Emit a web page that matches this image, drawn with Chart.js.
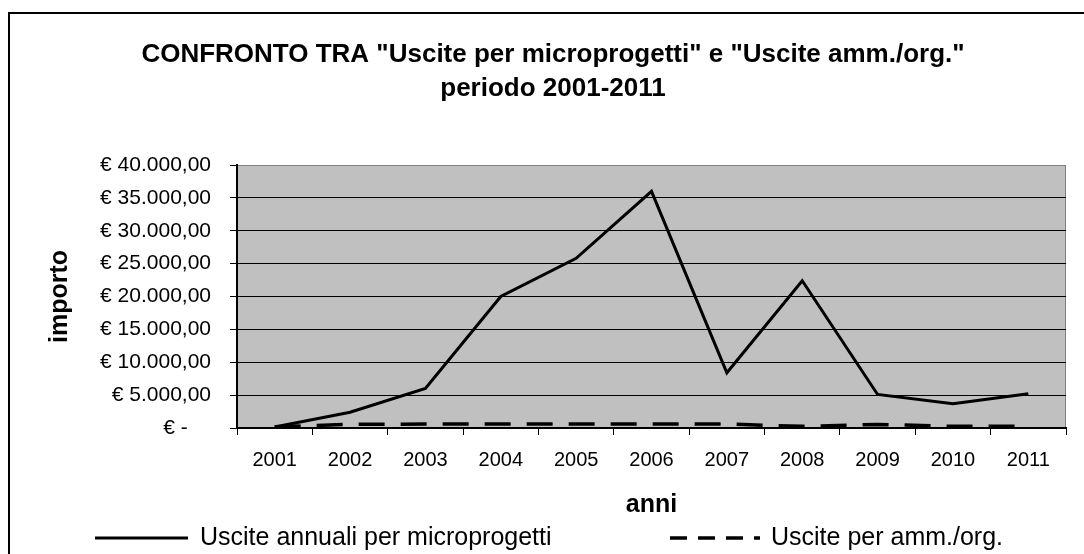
<!DOCTYPE html>
<html>
<head>
<meta charset="utf-8">
<title>Uscite per microprogetti e amm./org. 2001-2011</title>
<script src="https://cdn.jsdelivr.net/npm/chart.js@4.4.1/dist/chart.umd.min.js"></script>
<style>
  html, body { margin: 0; padding: 0; background: #fff; overflow: hidden; }
  #wrap { width: 1084px; height: 554px; }
</style>
</head>
<body>
<div id="wrap"><canvas id="chart" width="1084" height="554"></canvas></div>
<script>
// --- data ---
const years = ['2001', '2002', '2003', '2004', '2005', '2006', '2007', '2008', '2009', '2010', '2011'];
const usciteMicroprogetti = [150, 2400, 6000, 20000, 25800, 36000, 8400, 22400, 5100, 3700, 5200];
const usciteAmmOrg = [200, 550, 600, 600, 600, 600, 600, 250, 550, 250, 250];
const titleLines = ['CONFRONTO TRA "Uscite per microprogetti" e "Uscite amm./org."', 'periodo 2001-2011'];
const seriesNames = ['Uscite annuali per microprogetti', 'Uscite per amm./org.'];
const yMax = 40000;
const yStep = 5000;

const FONT = '"Liberation Sans", Arial, sans-serif';

// 40000 -> "€ 40.000,00", 0 -> "€ -"
function euro(v) {
  if (v === 0) return '€ -    ';
  const parts = v.toFixed(2).split('.');
  const intPart = parts[0].replace(/\B(?=(\d{3})+(?!\d))/g, '.');
  return '€ ' + intPart + ',' + parts[1];
}

// grey plot background, grey top/right frame, outer chart border
const backdrop = {
  id: 'backdrop',
  beforeDraw(chart) {
    const { ctx, chartArea: a } = chart;
    ctx.save();
    ctx.fillStyle = '#fff';
    ctx.fillRect(0, 0, chart.width, chart.height);
    ctx.fillStyle = '#000';
    ctx.fillRect(8, 12, chart.width, 2);
    ctx.fillRect(8, 12, 2, chart.height);
    ctx.fillStyle = '#c0c0c0';
    ctx.fillRect(a.left, a.top, a.right - a.left, a.bottom - a.top);
    ctx.strokeStyle = '#808080';
    ctx.lineWidth = 1;
    ctx.beginPath();
    ctx.moveTo(a.left, a.top + 0.5);
    ctx.lineTo(a.right - 0.5, a.top + 0.5);
    ctx.lineTo(a.right - 0.5, a.bottom);
    ctx.stroke();
    ctx.restore();
  }
};

// legend drawn by hand so the two entries sit where they do in the original
const bottomLegend = {
  id: 'bottomLegend',
  afterDraw(chart) {
    const { ctx } = chart;
    const slots = [
      { x0: 95, x1: 188, tx: 200, dash: [] },
      { x0: 670, x1: 760, tx: 771, dash: [17, 11] }
    ];
    const y = 538;
    ctx.save();
    chart.data.datasets.forEach((ds, i) => {
      const s = slots[i];
      ctx.strokeStyle = ds.borderColor;
      ctx.lineWidth = ds.borderWidth;
      ctx.setLineDash(s.dash);
      ctx.beginPath();
      ctx.moveTo(s.x0, y);
      ctx.lineTo(s.x1, y);
      ctx.stroke();
      ctx.setLineDash([]);
      ctx.fillStyle = '#000';
      ctx.font = '25px ' + FONT;
      ctx.textAlign = 'left';
      ctx.textBaseline = 'middle';
      ctx.fillText(ds.label, s.tx, y);
    });
    ctx.restore();
  }
};

Chart.defaults.color = '#000';
Chart.defaults.font.family = FONT;

new Chart(document.getElementById('chart').getContext('2d'), {
  type: 'line',
  data: {
    labels: years,
    datasets: [
      {
        label: seriesNames[0],
        data: usciteMicroprogetti,
        borderColor: '#000',
        borderWidth: 3,
        pointRadius: 0,
        tension: 0,
        fill: false
      },
      {
        label: seriesNames[1],
        data: usciteAmmOrg,
        borderColor: '#000',
        borderWidth: 3.5,
        borderDash: [26, 16],
        pointRadius: 0,
        tension: 0,
        fill: false
      }
    ]
  },
  options: {
    responsive: false,
    devicePixelRatio: 1,
    animation: false,
    events: [],
    layout: { padding: { left: 40, right: 18, top: 0, bottom: 31 } },
    plugins: {
      legend: { display: false },
      tooltip: { enabled: false },
      title: {
        display: true,
        text: titleLines,
        color: '#000',
        font: { family: FONT, size: 26, weight: 'bold', lineHeight: 1.3 },
        padding: { top: 38.1, bottom: 59.3 }
      }
    },
    scales: {
      x: {
        type: 'category',
        offset: true,
        border: { display: true, color: '#000', width: 2 },
        grid: {
          offset: true,
          drawOnChartArea: false,
          drawTicks: true,
          tickLength: 7,
          color: '#000',
          lineWidth: 1
        },
        ticks: {
          padding: 13,
          maxRotation: 0,
          autoSkip: false,
          font: { family: FONT, size: 20 }
        },
        title: {
          display: true,
          text: 'anni',
          font: { family: FONT, size: 25, weight: 'bold', lineHeight: 1.2 },
          padding: { top: 0, bottom: 3 }
        },
        afterFit(scale) { scale.height = 95; }
      },
      y: {
        min: 0,
        max: yMax,
        border: { display: true, color: '#000', width: 2 },
        grid: {
          color: ctx => (ctx.tick && ctx.tick.value === yMax ? '#808080' : '#000'),
          tickColor: '#000',
          tickLength: 7,
          lineWidth: 1
        },
        ticks: {
          stepSize: yStep,
          padding: 19,
          font: { family: FONT, size: 21 },
          callback: v => euro(v)
        },
        title: {
          display: true,
          text: 'importo',
          font: { family: FONT, size: 25, weight: 'bold', lineHeight: 1.2 },
          padding: { top: 5, bottom: 0 }
        },
        afterFit(scale) { scale.width = 197; }
      }
    }
  },
  plugins: [backdrop, bottomLegend]
});
</script>
</body>
</html>
